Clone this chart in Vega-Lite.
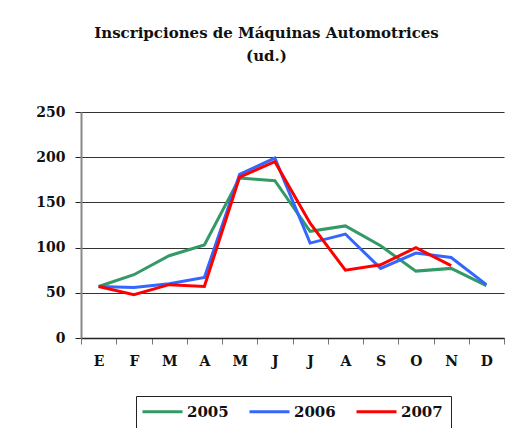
{
  "$schema": "https://vega.github.io/schema/vega-lite/v6.json",
  "width": 423,
  "height": 226,
  "autosize": {"type": "none"},
  "padding": {"left": 81, "top": 112, "right": 1, "bottom": 90},
  "background": "white",
  "title": {
    "text": ["Inscripciones de Máquinas Automotrices", "(ud.)"],
    "font": "DejaVu Serif",
    "fontSize": 15,
    "fontWeight": "bold",
    "color": "#111",
    "anchor": "middle",
    "frame": "group",
    "dx": -26,
    "offset": 41,
    "lineHeight": 23
  },
  "data": {
    "values": [
      {"mes": "Ene", "anio": "2005", "v": 57},
      {"mes": "Feb", "anio": "2005", "v": 70},
      {"mes": "Mar", "anio": "2005", "v": 91},
      {"mes": "Abr", "anio": "2005", "v": 103},
      {"mes": "May", "anio": "2005", "v": 177},
      {"mes": "Jun", "anio": "2005", "v": 174},
      {"mes": "Jul", "anio": "2005", "v": 118},
      {"mes": "Ago", "anio": "2005", "v": 124},
      {"mes": "Sep", "anio": "2005", "v": 102},
      {"mes": "Oct", "anio": "2005", "v": 74},
      {"mes": "Nov", "anio": "2005", "v": 77},
      {"mes": "Dic", "anio": "2005", "v": 58},
      {"mes": "Ene", "anio": "2006", "v": 57},
      {"mes": "Feb", "anio": "2006", "v": 56},
      {"mes": "Mar", "anio": "2006", "v": 60},
      {"mes": "Abr", "anio": "2006", "v": 67},
      {"mes": "May", "anio": "2006", "v": 181},
      {"mes": "Jun", "anio": "2006", "v": 199},
      {"mes": "Jul", "anio": "2006", "v": 105},
      {"mes": "Ago", "anio": "2006", "v": 115},
      {"mes": "Sep", "anio": "2006", "v": 77},
      {"mes": "Oct", "anio": "2006", "v": 94},
      {"mes": "Nov", "anio": "2006", "v": 89},
      {"mes": "Dic", "anio": "2006", "v": 59},
      {"mes": "Ene", "anio": "2007", "v": 57},
      {"mes": "Feb", "anio": "2007", "v": 48},
      {"mes": "Mar", "anio": "2007", "v": 59},
      {"mes": "Abr", "anio": "2007", "v": 57},
      {"mes": "May", "anio": "2007", "v": 178},
      {"mes": "Jun", "anio": "2007", "v": 195},
      {"mes": "Jul", "anio": "2007", "v": 127},
      {"mes": "Ago", "anio": "2007", "v": 75},
      {"mes": "Sep", "anio": "2007", "v": 81},
      {"mes": "Oct", "anio": "2007", "v": 100},
      {"mes": "Nov", "anio": "2007", "v": 80}
    ]
  },
  "mark": {"type": "line", "strokeWidth": 3},
  "encoding": {
    "x": {
      "field": "mes",
      "type": "ordinal",
      "sort": ["Ene","Feb","Mar","Abr","May","Jun","Jul","Ago","Sep","Oct","Nov","Dic"],
      "scale": {"type": "band", "paddingInner": 0, "paddingOuter": 0},
      "axis": {
        "title": null,
        "labelExpr": "substring(datum.label, 0, 1)",
        "labelAngle": 0,
        "labelFont": "DejaVu Serif",
        "labelFontSize": 14,
        "labelFontWeight": "bold",
        "labelColor": "#111",
        "labelPadding": 10,
        "tickBand": "extent",
        "tickSize": 6,
        "tickColor": "#777",
        "domainColor": "#222",
        "domainWidth": 1.5,
        "grid": false
      }
    },
    "y": {
      "field": "v",
      "type": "quantitative",
      "scale": {"domain": [0, 250], "nice": false},
      "axis": {
        "title": null,
        "values": [0, 50, 100, 150, 200, 250],
        "labelFont": "DejaVu Serif",
        "labelFontSize": 14,
        "labelFontWeight": "bold",
        "labelColor": "#111",
        "labelPadding": 10,
        "tickSize": 6,
        "tickColor": "#222",
        "domainColor": "#888",
        "domainWidth": 2,
        "grid": true,
        "gridColor": "#333",
        "gridWidth": 1
      }
    },
    "color": {
      "field": "anio",
      "type": "nominal",
      "scale": {"domain": ["2005", "2006", "2007"], "range": ["#339966", "#3366FF", "#FF0000"]},
      "legend": {
        "title": null,
        "orient": "none",
        "direction": "horizontal",
        "legendX": 55,
        "legendY": 284,
        "symbolType": "M-4,0L4,0",
        "symbolSize": 100,
        "symbolStrokeWidth": 3,
        "symbolOffset": 11,
        "labelFont": "DejaVu Serif",
        "labelFontSize": 15,
        "labelFontWeight": "bold",
        "labelColor": "#111",
        "labelOffset": 17,
        "columnPadding": 14,
        "padding": 8,
        "strokeColor": "#222",
        "fillColor": "white"
      }
    }
  },
  "config": {"view": {"stroke": null}}
}
